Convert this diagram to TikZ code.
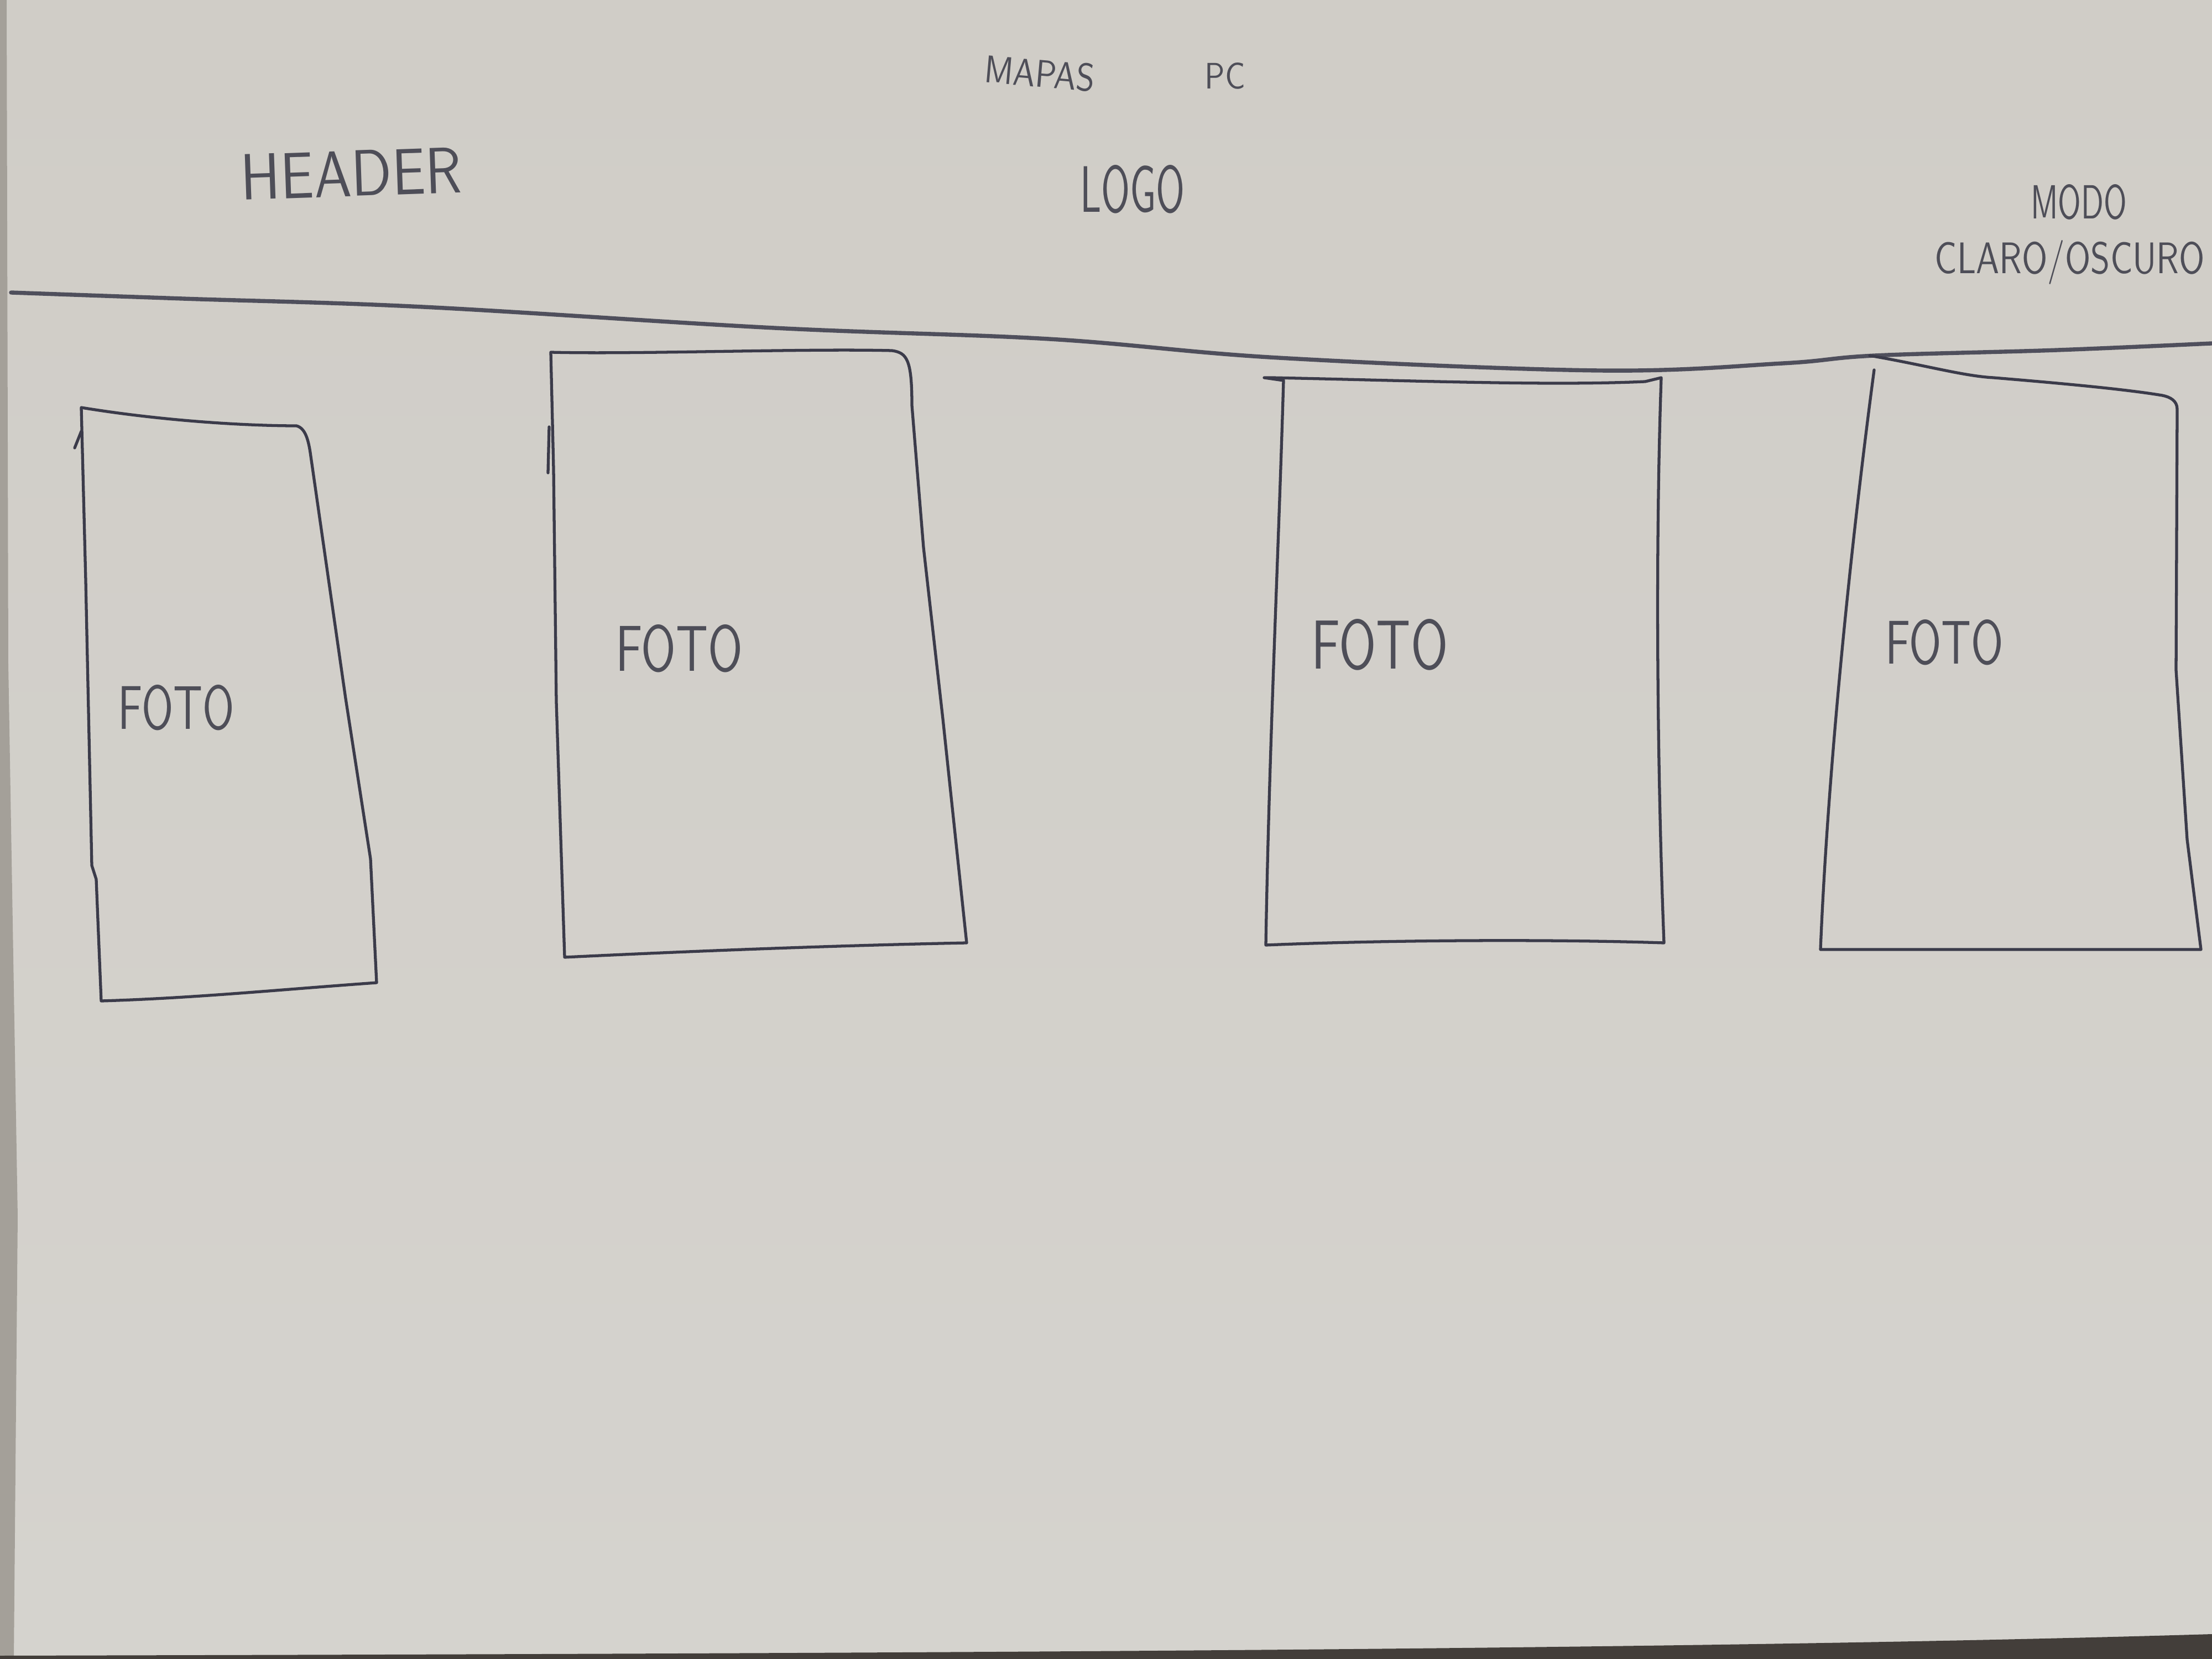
\documentclass[tikz,border=0pt]{standalone}
\usepackage{graphicx}
\definecolor{papertop}{HTML}{D0CDC7}
\definecolor{papermid}{HTML}{DEDDD9}
\definecolor{paperbot}{HTML}{D5D3CE}
\definecolor{ink}{HTML}{3B3B4A}
\definecolor{pencil}{HTML}{4E4E58}
\definecolor{edge}{HTML}{6F6860}
% stretch a word to a given width and cap height, like hand lettering
\newcommand{\handword}[3]{\resizebox{#1}{#2}{#3}}
\begin{document}
\begin{tikzpicture}[x=1cm,y=1cm,
  pen/.style={draw=ink, line width=1.5pt, line join=round, line cap=round},
  rule/.style={draw=ink!90, line width=2.1pt, line join=round, line cap=round},
  hand/.style={inner sep=0pt, text=pencil, font=\sffamily}]
\useasboundingbox (0,0) rectangle (40,-30);
\clip (0,0) rectangle (40,-30);

% sheet of paper
\shade[top color=papertop, middle color=papermid, bottom color=paperbot]
  (0,0) rectangle (40,-30);
% edge of the sheet below and the table at the bottom
\fill[edge!45!papertop] (0,0) -- (0.12,0) -- (0.15,-12) -- (0.32,-22) -- (0.25,-30) -- (0,-30) -- cycle;
\fill[edge!60!black] (0,-30) -- (0,-29.94) .. controls (15,-29.9) and (30,-29.85) .. (40,-29.55) -- (40,-30) -- cycle;

% header texts
\node[hand, rotate=-5] (mapas) at (18.80,-1.33) {\handword{2.0cm}{0.5cm}{MAPAS}};
\node[hand] (pc) at (22.15,-1.37) {\handword{0.73cm}{0.47cm}{PC}};
\node[hand, rotate=2] (header) at (6.35,-3.14) {\handword{4.0cm}{0.82cm}{HEADER}};
\node[hand] (logo) at (20.48,-3.42) {\handword{1.9cm}{0.85cm}{LOGO}};
\node[hand] (modo) at (37.59,-3.65) {\handword{1.74cm}{0.62cm}{MODO}};
\node[hand] (modo2) at (37.43,-4.75) {\handword{4.88cm}{0.6cm}{CLARO/OSCURO}};

% line closing the header
\draw[rule] plot[smooth, tension=0.6] coordinates {(0.2,-5.29) (3.3,-5.40) (7.65,-5.55)
  (14.0,-5.93) (18.97,-6.13) (23.12,-6.47) (28.92,-6.70) (32.24,-6.57)
  (33.90,-6.43) (37.21,-6.33) (40.2,-6.20)};

% first picture frame
\draw[pen] (1.47,-7.37)
  .. controls (3.0,-7.62) and (4.5,-7.70) .. (5.36,-7.70)
  .. controls (5.52,-7.74) and (5.58,-7.95) .. (5.62,-8.25)
  -- (6.25,-12.63) -- (6.70,-15.53) -- (6.81,-17.77)
  .. controls (5.0,-17.90) and (3.5,-18.05) .. (1.83,-18.10)
  -- (1.74,-15.90) -- (1.66,-15.65) -- (1.55,-10.5) -- cycle;
\draw[pen] (1.35,-8.10) -- (1.47,-7.80);
\node[hand] (foto1) at (3.19,-12.80) {\handword{2.1cm}{0.8cm}{FOTO}};

% second picture frame
\draw[pen] (9.96,-6.37)
  .. controls (11.5,-6.41) and (14.5,-6.30) .. (16.13,-6.34)
  .. controls (16.40,-6.38) and (16.49,-6.50) .. (16.49,-7.33)
  -- (16.70,-9.9) -- (17.05,-13.0) -- (17.48,-17.05)
  .. controls (15.0,-17.10) and (12.5,-17.20) .. (10.21,-17.31)
  -- (10.06,-12.69) -- (10.01,-8.48) -- cycle;
\draw[pen] (9.93,-7.72) -- (9.91,-8.55);
\node[hand] (foto2) at (12.28,-11.73) {\handword{2.3cm}{0.84cm}{FOTO}};

% third picture frame
\draw[pen] (22.86,-6.83) -- (23.21,-6.88)
  .. controls (23.12,-10.0) and (22.95,-13.5) .. (22.89,-17.09)
  .. controls (25.0,-17.00) and (28.0,-16.98) .. (30.09,-17.05)
  .. controls (29.97,-14.0) and (29.93,-10.0) .. (30.04,-6.83)
  -- (29.75,-6.90)
  .. controls (28.0,-6.98) and (25.5,-6.88) .. (23.0,-6.83) -- cycle;
\node[hand] (foto3) at (24.95,-11.66) {\handword{2.47cm}{0.9cm}{FOTO}};

% fourth picture frame, its top hanging from the header line
\draw[pen] (33.81,-6.43)
  .. controls (34.8,-6.60) and (35.5,-6.80) .. (36.05,-6.83)
  .. controls (37.5,-6.95) and (38.5,-7.05) .. (39.10,-7.15)
  .. controls (39.25,-7.18) and (39.37,-7.25) .. (39.37,-7.40)
  -- (39.35,-12.12) -- (39.55,-15.18) -- (39.80,-17.17)
  -- (32.92,-17.17)
  .. controls (33.05,-14.0) and (33.45,-10.0) .. (33.89,-6.69);
\node[hand] (foto4) at (35.16,-11.62) {\handword{2.14cm}{0.8cm}{FOTO}};
\end{tikzpicture}
\end{document}
